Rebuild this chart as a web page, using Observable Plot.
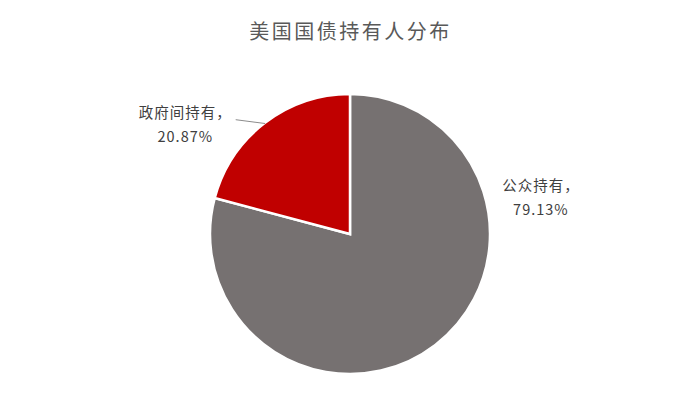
<!DOCTYPE html>
<html><head><meta charset="utf-8">
<script src="https://cdn.jsdelivr.net/npm/d3@7"></script>
<script src="https://cdn.jsdelivr.net/npm/@observablehq/plot@0.6"></script>
<style>
body{margin:0;background:#fff;}
#chart svg{display:block;font-family:"Noto Sans CJK SC","Noto Sans",sans-serif;}
</style>
</head><body><div id="chart"></div>
<script>
const title = "美国国债持有人分布";
const categories = ["公众持有", "政府间持有"];
const shares = [79.13, 20.87];
const colors = ["#767171", "#C00000"];

const data = categories.map((c, i) => ({category: c, value: shares[i], color: colors[i]}));
const arcs = d3.pie().sort(null).value(d => d.value)(data);

// label layout (in units of the pie radius, pie centred at 0,0)
const labelPos = [{x: 1.36, y: 0.28}, {x: -1.18, y: 0.80}];
const labels = arcs.map((a, i) => ({
  text: `${a.data.category}，\n${a.data.value.toFixed(2)}%`,
  x: labelPos[i].x, y: labelPos[i].y
}));
// leader line for the small slice: from label end to arc mid-point
const red = arcs[1];
const mid = (red.startAngle + red.endAngle) / 2;
const leader = [{x1: -0.82, y1: 0.82, x2: Math.sin(mid), y2: Math.cos(mid)}];

const pieMark = (index, scales) => {
  const cx = scales.x(0), cy = scales.y(0);
  const r = scales.x(1) - scales.x(0);
  const g = d3.create("svg:g").attr("transform", `translate(${cx},${cy})`);
  const arcGen = d3.arc().innerRadius(0).outerRadius(r);
  g.selectAll("path").data(arcs).join("path")
    .attr("d", arcGen)
    .attr("fill", d => d.data.color)
    .attr("stroke", "#fff")
    .attr("stroke-width", 2.5)
    .attr("stroke-linejoin", "miter");
  return g.node();
};

const chart = Plot.plot({
  width: 700, height: 420,
  margin: 0,
  x: {domain: [-2.5, 2.5], axis: null},
  y: {domain: [-(420 - 234) / 140, 234 / 140], axis: null},
  marks: [
    pieMark,
    Plot.link(leader, {x1: "x1", y1: "y1", x2: "x2", y2: "y2", stroke: "#8c8c8c", strokeWidth: 1}),
    Plot.text(labels, {x: "x", y: "y", text: "text", fontSize: 14.5, lineHeight: 1.65, fill: "#404040",
      textAnchor: "middle", style: "letter-spacing:1px"}),
    Plot.text([title], {frameAnchor: "top", dy: 32, text: d => d, fontSize: 20, fill: "#595959",
      lineAnchor: "middle"})
  ]
});
chart.querySelectorAll("text").forEach(t => {
  if (t.textContent === title) t.setAttribute("letter-spacing", "2.5px");
  else t.setAttribute("letter-spacing", "1px");
});
document.getElementById("chart").appendChild(chart);
</script>
</body></html>
